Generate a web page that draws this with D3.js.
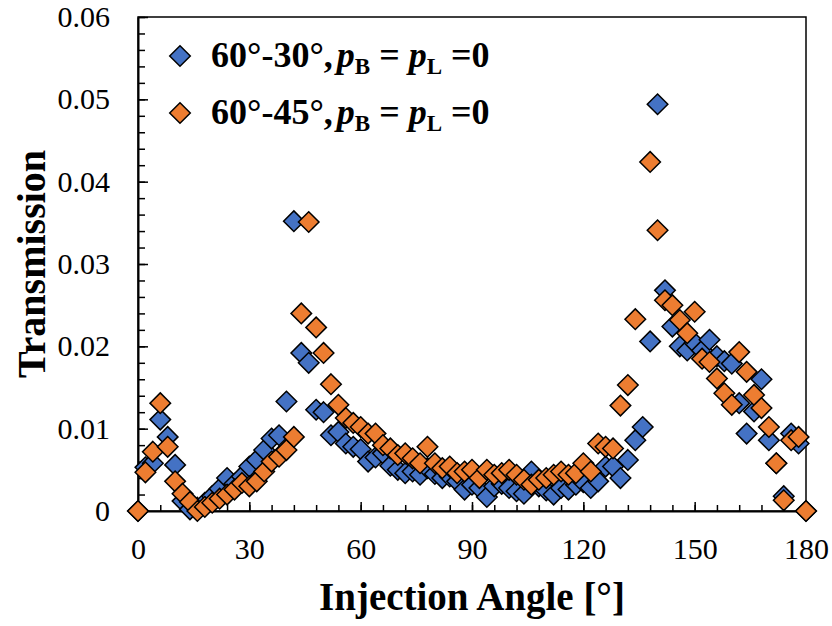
<!DOCTYPE html>
<html>
<head>
<meta charset="utf-8">
<script src="https://cdn.jsdelivr.net/npm/d3@7"></script>
<style>
  body { margin: 0; background: #fff; }
  svg { display: block; }
</style>
</head>
<body>
<script>
// injection angle [deg] and transmission, series 60°-30°
const angles30 = [0, 2, 4, 6, 8, 10, 12, 14, 16, 18, 20, 22, 24, 26, 28, 30, 32, 34, 36, 38,
  40, 42, 44, 46, 48, 50, 52, 54, 56, 58, 60, 62, 64, 66, 68, 70, 72, 74, 76, 78,
  80, 82, 84, 86, 88, 90, 92, 94, 96, 98, 100, 102, 104, 106, 108, 110, 112, 114, 116, 118,
  120, 122, 124, 126, 128, 130, 132, 134, 136, 138, 140, 142, 144, 146, 148, 150, 152, 154, 156, 158,
  160, 162, 164, 166, 168, 170, 172, 174, 176, 178, 180];
const trans30 = [0.0000, 0.0053, 0.0058, 0.0111, 0.0090, 0.0056, 0.0012, 0.0002, 0.0004, 0.0010,
  0.0018, 0.0027, 0.0040, 0.0033, 0.0042, 0.0054, 0.0062, 0.0074, 0.0088, 0.0092,
  0.0133, 0.0352, 0.0192, 0.0180, 0.0123, 0.0120, 0.0092, 0.0096, 0.0082, 0.0078,
  0.0075, 0.0060, 0.0065, 0.0070, 0.0055, 0.0050, 0.0046, 0.0048, 0.0044, 0.0052,
  0.0045, 0.0040, 0.0042, 0.0036, 0.0026, 0.0032, 0.0028, 0.0017, 0.0030, 0.0033,
  0.0028, 0.0024, 0.0021, 0.0048, 0.0030, 0.0025, 0.0020, 0.0028, 0.0026, 0.0032,
  0.0035, 0.0028, 0.0036, 0.0054, 0.0054, 0.0040, 0.0062, 0.0086, 0.0102, 0.0206,
  0.0494, 0.0268, 0.0224, 0.0200, 0.0195, 0.0204, 0.0195, 0.0208, 0.0188, 0.0182,
  0.0179, 0.0131, 0.0094, 0.0121, 0.0160, 0.0086, 0.0058, 0.0018, 0.0094, 0.0082, 0.0000];

// series 60°-45°
const angles45 = [0, 2, 4, 6, 8, 10, 12, 14, 16, 18, 20, 22, 24, 26, 28, 30, 32, 34, 36, 38,
  40, 42, 44, 46, 48, 50, 52, 54, 56, 58, 60, 62, 64, 66, 68, 70, 72, 74, 76, 78,
  80, 82, 84, 86, 88, 90, 92, 94, 96, 98, 100, 102, 104, 106, 108, 110, 112, 114, 116, 118,
  120, 122, 124, 126, 128, 130, 132, 134, 138, 140, 142, 144, 146, 148, 150, 152, 154, 156, 158,
  160, 162, 164, 166, 168, 170, 172, 174, 176, 178, 180];
const trans45 = [0.0000, 0.0047, 0.0072, 0.0131, 0.0078, 0.0036, 0.0021, 0.0011, 0.0000, 0.0005,
  0.0010, 0.0015, 0.0020, 0.0026, 0.0034, 0.0030, 0.0036, 0.0048, 0.0060, 0.0066,
  0.0074, 0.0090, 0.0240, 0.0351, 0.0223, 0.0192, 0.0154, 0.0129, 0.0113, 0.0107,
  0.0102, 0.0094, 0.0094, 0.0080, 0.0076, 0.0068, 0.0070, 0.0064, 0.0058, 0.0078,
  0.0058, 0.0052, 0.0054, 0.0046, 0.0048, 0.0050, 0.0040, 0.0050, 0.0044, 0.0046,
  0.0050, 0.0044, 0.0038, 0.0032, 0.0038, 0.0040, 0.0044, 0.0048, 0.0044, 0.0046,
  0.0058, 0.0048, 0.0082, 0.0078, 0.0076, 0.0128, 0.0153, 0.0233, 0.0424,
  0.0341, 0.0256, 0.0250, 0.0232, 0.0216, 0.0242, 0.0185, 0.0181, 0.0161, 0.0143,
  0.0129, 0.0193, 0.0169, 0.0141, 0.0125, 0.0102, 0.0058, 0.0013, 0.0086, 0.0090, 0.0000];

const xTicks = [0, 30, 60, 90, 120, 150, 180];
const yTicks = [0, 0.01, 0.02, 0.03, 0.04, 0.05, 0.06];

const series = [
  { name: "60°-30°", color: "#4472C4", x: angles30, y: trans30 },
  { name: "60°-45°", color: "#ED7D31", x: angles45, y: trans45 }
];

const W = 832, H = 626;
const margin = { top: 17, right: 26, bottom: 115, left: 138 },
  width = W - margin.left - margin.right,
  height = H - margin.top - margin.bottom;

const serif = "'Liberation Serif', 'Times New Roman', serif";

const svg = d3.select("body").append("svg")
  .attr("width", W)
  .attr("height", H)
  .style("background", "#fff");

const g = svg.append("g")
  .attr("transform", `translate(${margin.left},${margin.top})`);

const x = d3.scaleLinear().domain([0, 180]).range([0, width]);
const y = d3.scaleLinear().domain([0, 0.06]).range([height, 0]);

// frame
g.append("rect")
  .attr("width", width)
  .attr("height", height)
  .attr("fill", "none")
  .attr("stroke", "#000")
  .attr("stroke-width", 1.5);

// minor ticks
g.append("g")
  .attr("transform", `translate(0,${height})`)
  .call(d3.axisBottom(x).tickValues(d3.range(0, 181, 6)).tickSize(-6).tickFormat(""))
  .call(a => a.select(".domain").remove())
  .selectAll("line").attr("stroke-width", 1.5);

g.append("g")
  .call(d3.axisLeft(y).tickValues(d3.range(0, 0.0601, 0.002)).tickSize(-7).tickFormat(""))
  .call(a => a.select(".domain").remove())
  .selectAll("line").attr("stroke-width", 1.5);

// major ticks + labels
const xAxis = g.append("g")
  .attr("transform", `translate(0,${height})`)
  .call(d3.axisBottom(x).tickValues(xTicks).tickSize(-9).tickSizeOuter(0).tickPadding(27));
xAxis.select(".domain").attr("stroke-width", 2);
xAxis.selectAll("line").attr("stroke-width", 1.5);
xAxis.selectAll("text")
  .attr("font-family", serif)
  .attr("font-size", 30)
  .attr("fill", "#000");

const yAxis = g.append("g")
  .call(d3.axisLeft(y).tickValues(yTicks).tickSize(-10).tickSizeOuter(0).tickPadding(28)
    .tickFormat(d => d === 0 ? "0" : d3.format(".2f")(d)));
yAxis.select(".domain").attr("stroke-width", 2);
yAxis.selectAll("line").attr("stroke-width", 1.5);
yAxis.selectAll("text")
  .attr("font-family", serif)
  .attr("font-size", 30)
  .attr("fill", "#000");

// points
const diamond = d3.symbol().type(d3.symbolDiamond2).size(270);

series.forEach(s => {
  g.append("g").selectAll("path")
    .data(s.x.map((a, i) => [a, s.y[i]]))
    .join("path")
    .attr("d", diamond)
    .attr("transform", d => `translate(${x(d[0])},${y(d[1])})`)
    .attr("fill", s.color)
    .attr("stroke", "#000")
    .attr("stroke-width", 1.5);
});

// legend
const legend = svg.append("g");
series.forEach((s, i) => {
  const row = legend.append("g").attr("transform", `translate(180,${56 + i * 57})`);
  row.append("path")
    .attr("d", diamond)
    .attr("fill", s.color)
    .attr("stroke", "#000")
    .attr("stroke-width", 1.5);
  const t = row.append("text")
    .attr("x", 31)
    .attr("y", 11)
    .attr("font-family", serif)
    .attr("font-size", 36)
    .attr("font-weight", "bold");
  t.append("tspan").text(s.name + ",");
  t.append("tspan").attr("dx", 4).attr("font-style", "italic").text("p");
  t.append("tspan").attr("font-size", 23).attr("dy", 7).text("B");
  t.append("tspan").attr("dy", -7).text(" = ");
  t.append("tspan").attr("font-style", "italic").text("p");
  t.append("tspan").attr("font-size", 23).attr("dy", 7).text("L");
  t.append("tspan").attr("dy", -7).text(" =0");
});

// axis titles
svg.append("text")
  .attr("x", margin.left + width / 2)
  .attr("y", 610)
  .attr("text-anchor", "middle")
  .attr("font-family", serif)
  .attr("font-size", 39)
  .attr("font-weight", "bold")
  .text("Injection Angle [°]");

svg.append("text")
  .attr("transform", `translate(45,${margin.top + height / 2}) rotate(-90)`)
  .attr("text-anchor", "middle")
  .attr("font-family", serif)
  .attr("font-size", 40)
  .attr("font-weight", "bold")
  .text("Transmission");
</script>
</body>
</html>
